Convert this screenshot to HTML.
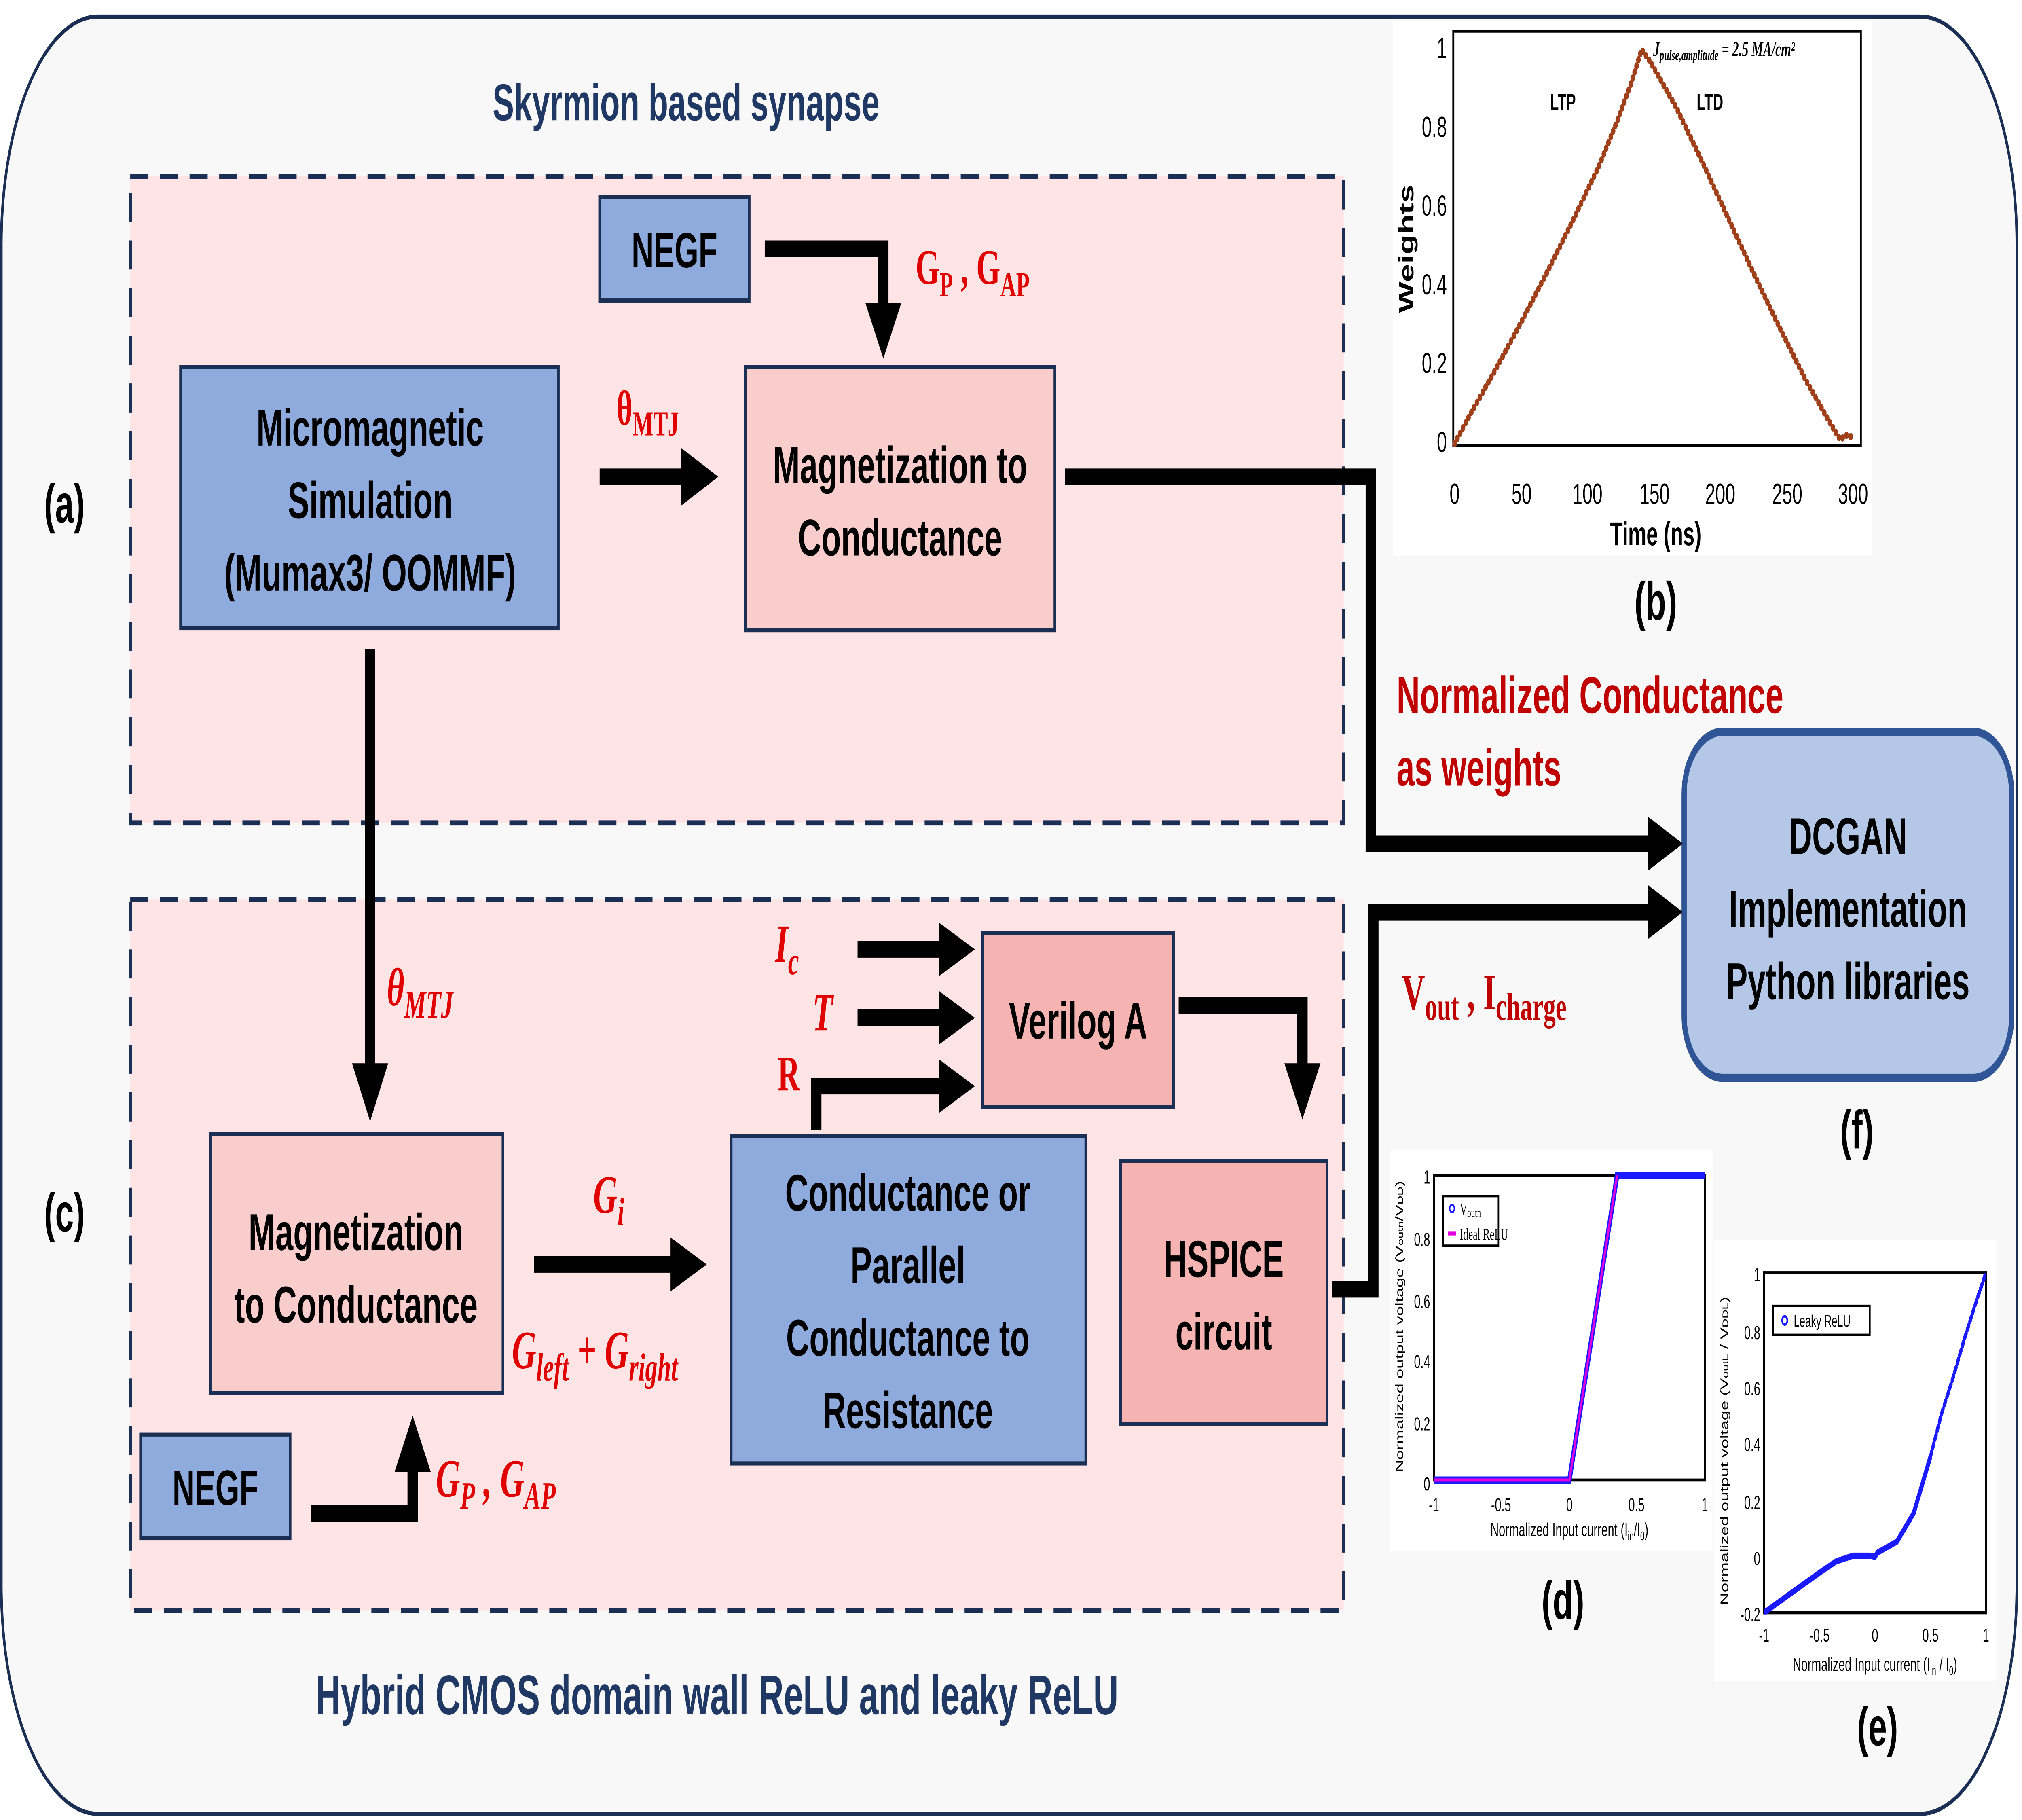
<!DOCTYPE html>
<html><head><meta charset="utf-8"><style>
html,body{margin:0;padding:0;background:#fff;width:100%;height:100%;overflow:hidden;}
svg{display:block;width:100vw;height:100vh;}
.bx{font-family:"Liberation Sans",sans-serif;font-weight:bold;fill:#000;text-anchor:middle;}
.rd{font-family:"Liberation Serif",serif;font-weight:bold;fill:#e00000;}
.ax{font-family:"Liberation Sans",sans-serif;fill:#000;}
</style></head><body>
<svg viewBox="0 0 1568 878" preserveAspectRatio="none" xmlns="http://www.w3.org/2000/svg">
<rect x="0" y="0" width="1568" height="878" fill="#fff"/>
<rect x="1" y="8" width="1563" height="867" rx="75" ry="110" fill="#f8f8f8" stroke="#1b2f55" stroke-width="2"/>

<text x="532" y="58" class="bx" style="fill:#1f3864;font-size:25px">Skyrmion based synapse</text>
<text x="556" y="827" class="bx" style="fill:#1f3864;font-size:27px">Hybrid CMOS domain wall ReLU and leaky ReLU</text>

<rect x="101" y="85" width="941" height="312" fill="#ffe4e6" stroke="#1b2f55" stroke-width="2.5" stroke-dasharray="14 9"/>
<rect x="101" y="434" width="941" height="343" fill="#ffe4e6" stroke="#1b2f55" stroke-width="2.5" stroke-dasharray="14 9"/>

<text x="50" y="252" class="bx" style="font-size:26px">(a)</text>
<text x="50" y="594" class="bx" style="font-size:26px">(c)</text>

<rect x="465" y="95" width="116" height="50" fill="#8faadc" stroke="#1b2f55" stroke-width="2"/>
<text x="523" y="129" class="bx" style="font-size:24px">NEGF</text>
<rect x="140" y="177" width="293" height="126" fill="#8faadc" stroke="#1b2f55" stroke-width="2"/>
<text x="287" y="215" class="bx" style="font-size:25px">Micromagnetic</text>
<text x="287" y="250" class="bx" style="font-size:25px">Simulation</text>
<text x="287" y="285" class="bx" style="font-size:25px">(Mumax3/ OOMMF)</text>
<rect x="578" y="177" width="240" height="127" fill="#f9cdcb" stroke="#1b2f55" stroke-width="2"/>
<text x="698" y="233" class="bx" style="font-size:25px">Magnetization to</text>
<text x="698" y="268" class="bx" style="font-size:25px">Conductance</text>

<rect x="163" y="547" width="227" height="125" fill="#f9cdcb" stroke="#1b2f55" stroke-width="2"/>
<text x="276" y="603" class="bx" style="font-size:25px">Magnetization</text>
<text x="276" y="638" class="bx" style="font-size:25px">to Conductance</text>
<rect x="567" y="548" width="275" height="158" fill="#8faadc" stroke="#1b2f55" stroke-width="2"/>
<text x="704" y="584" class="bx" style="font-size:25px">Conductance or</text>
<text x="704" y="619" class="bx" style="font-size:25px">Parallel</text>
<text x="704" y="654" class="bx" style="font-size:25px">Conductance to</text>
<text x="704" y="689" class="bx" style="font-size:25px">Resistance</text>
<rect x="762" y="450" width="148" height="84" fill="#f5b3b1" stroke="#1b2f55" stroke-width="2"/>
<text x="836" y="501" class="bx" style="font-size:25px">Verilog A</text>
<rect x="869" y="560" width="160" height="127" fill="#f5b3b1" stroke="#1b2f55" stroke-width="2"/>
<text x="949" y="616" class="bx" style="font-size:25px">HSPICE</text>
<text x="949" y="651" class="bx" style="font-size:25px">circuit</text>
<rect x="109" y="692" width="116" height="50" fill="#8faadc" stroke="#1b2f55" stroke-width="2"/>
<text x="167" y="726" class="bx" style="font-size:24px">NEGF</text>

<rect x="1306" y="353" width="254" height="167" rx="30" fill="#b4c7e7" stroke="#2f5597" stroke-width="4"/>
<text x="1433" y="412" class="bx" style="font-size:25px">DCGAN</text>
<text x="1433" y="447" class="bx" style="font-size:25px">Implementation</text>
<text x="1433" y="482" class="bx" style="font-size:25px">Python libraries</text>
<text x="1440" y="554" class="bx" style="font-size:26px">(f)</text>

<g fill="none" stroke="#000" stroke-width="8">
<path d="M465,230 H532"/>
<path d="M593,120 H685 V148"/>
<path d="M826,230 H1063 V407 H1282"/>
<path d="M287,313 V516"/>
<path d="M414,610 H523"/>
<path d="M665,458 H731"/>
<path d="M665,491 H731"/>
<path d="M633,545 V524 H731"/>
<path d="M914,485 H1010 V516"/>
<path d="M1033,622 H1065 V440 H1282"/>
<path d="M241,730 H320 V707"/>
</g>
<g fill="#000">
<polygon points="528,216 557,230 528,244"/>
<polygon points="671,146 685,173 699,146"/>
<polygon points="1278,394 1305,407 1278,420"/>
<polygon points="273,513 287,541 301,513"/>
<polygon points="520,597 548,610 520,623"/>
<polygon points="728,445 756,458 728,471"/>
<polygon points="728,478 756,491 728,504"/>
<polygon points="728,511 756,524 728,537"/>
<polygon points="996,513 1010,540 1024,513"/>
<polygon points="1278,427 1305,440 1278,453"/>
<polygon points="306,710 320,683 334,710"/>
</g>

<text x="478" y="205" class="rd" style="font-size:24px">θ<tspan font-size="17" dy="5">MTJ</tspan></text>
<text x="710" y="137" class="rd" style="font-size:24px">G<tspan font-size="17" dy="6">P</tspan><tspan dy="-6"> , G</tspan><tspan font-size="17" dy="6">AP</tspan></text>
<text x="300" y="485" class="rd" style="font-size:26px;font-style:italic">θ<tspan font-size="19" dy="6">MTJ</tspan></text>
<text x="460" y="585" class="rd" style="font-size:26px;font-style:italic">G<tspan font-size="19" dy="6">i</tspan></text>
<text x="397" y="660" class="rd" style="font-size:26px;font-style:italic">G<tspan font-size="19" dy="6">left</tspan><tspan dy="-6"> + G</tspan><tspan font-size="19" dy="6">right</tspan></text>
<text x="338" y="722" class="rd" style="font-size:26px;font-style:italic">G<tspan font-size="19" dy="6">P</tspan><tspan dy="-6"> , G</tspan><tspan font-size="19" dy="6">AP</tspan></text>
<text x="601" y="464" class="rd" style="font-size:26px;font-style:italic">I<tspan font-size="19" dy="6">c</tspan></text>
<text x="630" y="497" class="rd" style="font-size:26px;font-style:italic">T</text>
<text x="603" y="526" class="rd" style="font-size:24px">R</text>
<text x="1087" y="487" class="rd" style="font-size:25px;fill:#c00000">V<tspan font-size="19" dy="5">out</tspan><tspan dy="-5"> , I</tspan><tspan font-size="19" dy="5">charge</tspan></text>
<text x="1083" y="344" class="bx" style="font-size:25px;fill:#c00000;text-anchor:start">Normalized Conductance</text>
<text x="1083" y="379" class="bx" style="font-size:25px;fill:#c00000;text-anchor:start">as weights</text>

<rect x="1080" y="10" width="372" height="258" fill="#fff"/>
<rect x="1127" y="15" width="316" height="200" fill="none" stroke="#000" stroke-width="1.5"/>
<g class="ax" style="font-size:14px;text-anchor:end">
<text x="1122" y="28">1</text><text x="1122" y="66">0.8</text><text x="1122" y="104">0.6</text>
<text x="1122" y="142">0.4</text><text x="1122" y="180">0.2</text><text x="1122" y="218">0</text>
</g>
<g class="ax" style="font-size:14px;text-anchor:middle">
<text x="1128" y="243">0</text><text x="1180" y="243">50</text><text x="1231" y="243">100</text>
<text x="1283" y="243">150</text><text x="1334" y="243">200</text><text x="1386" y="243">250</text><text x="1437" y="243">300</text>
</g>
<text x="1284" y="263" class="bx" style="font-size:16px">Time (ns)</text>
<text transform="translate(1096,120) rotate(-90)" class="bx" style="font-size:16px">Weights</text>
<text x="1212" y="53" class="bx" style="font-size:11px">LTP</text>
<text x="1326" y="53" class="bx" style="font-size:11px">LTD</text>
<text x="1282" y="27" style="font-family:'Liberation Serif',serif;font-style:italic;font-weight:bold;font-size:10px">J<tspan font-size="7" dy="2">pulse,amplitude</tspan><tspan dy="-2"> = 2.5 MA/cm²</tspan></text>
<polyline fill="none" stroke="#a0401a" stroke-width="3.5" stroke-linecap="round" stroke-dasharray="0.1 3.2"
 points="1128,214 1140,200 1160,178 1180,155 1200,131 1220,106 1240,80 1255,57 1265,40 1273,24 1280,30 1300,52 1320,78 1340,105 1360,132 1380,158 1400,183 1420,205 1427,212 1432,210 1437,211"/>
<text x="1284" y="299" class="bx" style="font-size:26px">(b)</text>

<rect x="1078" y="555" width="250" height="193" fill="#fff"/>
<rect x="1112" y="567" width="210" height="147" fill="none" stroke="#000" stroke-width="1.5"/>
<g class="ax" style="font-size:9px;text-anchor:end">
<text x="1109" y="571">1</text><text x="1109" y="601">0.8</text><text x="1109" y="631">0.6</text>
<text x="1109" y="660">0.4</text><text x="1109" y="690">0.2</text><text x="1109" y="719">0</text>
</g>
<g class="ax" style="font-size:9px;text-anchor:middle">
<text x="1112" y="729">-1</text><text x="1164" y="729">-0.5</text><text x="1217" y="729">0</text><text x="1269" y="729">0.5</text><text x="1322" y="729">1</text>
</g>
<text x="1217" y="741" class="ax" style="font-size:9px;text-anchor:middle">Normalized Input current (I<tspan font-size="6" dy="2">in</tspan><tspan dy="-2">/I</tspan><tspan font-size="6" dy="2">0</tspan><tspan dy="-2">)</tspan></text>
<text transform="translate(1088,640) rotate(-90)" class="ax" style="font-size:8.5px;text-anchor:middle">Normalized output voltage (V<tspan font-size="6">outn</tspan>/V<tspan font-size="6">DD</tspan>)</text>
<polyline fill="none" stroke="#1a1aff" stroke-width="3.5" points="1112,714 1217,714 1254,567 1322,567"/>
<polyline fill="none" stroke="#e000e0" stroke-width="1.6" points="1112,714 1217,714 1254,567"/>
<rect x="1119" y="577" width="43" height="24" fill="#fff" stroke="#000" stroke-width="1.2"/>
<circle cx="1126" cy="583" r="1.8" fill="none" stroke="#1a1aff"/>
<line x1="1123" y1="595" x2="1129" y2="595" stroke="#e000e0" stroke-width="2"/>
<text x="1132" y="586" style="font-family:'Liberation Serif',serif;font-size:8px">V<tspan font-size="6" dy="1">outn</tspan></text>
<text x="1132" y="598" style="font-family:'Liberation Serif',serif;font-size:8px">Ideal ReLU</text>
<text x="1212" y="781" class="bx" style="font-size:26px">(d)</text>

<rect x="1329" y="598" width="219" height="213" fill="#fff"/>
<rect x="1368" y="614" width="172" height="164" fill="none" stroke="#000" stroke-width="1.5"/>
<g class="ax" style="font-size:9px;text-anchor:end">
<text x="1365" y="618">1</text><text x="1365" y="646">0.8</text><text x="1365" y="673">0.6</text>
<text x="1365" y="700">0.4</text><text x="1365" y="728">0.2</text><text x="1365" y="755">0</text><text x="1365" y="782">-0.2</text>
</g>
<g class="ax" style="font-size:9px;text-anchor:middle">
<text x="1368" y="792">-1</text><text x="1411" y="792">-0.5</text><text x="1454" y="792">0</text><text x="1497" y="792">0.5</text><text x="1540" y="792">1</text>
</g>
<text x="1454" y="806" class="ax" style="font-size:9px;text-anchor:middle">Normalized Input current (I<tspan font-size="6" dy="2">in</tspan><tspan dy="-2"> / I</tspan><tspan font-size="6" dy="2">0</tspan><tspan dy="-2">)</tspan></text>
<text transform="translate(1340,700) rotate(-90)" class="ax" style="font-size:8.5px;text-anchor:middle">Normalized output voltage (V<tspan font-size="6">outL</tspan> / V<tspan font-size="6">DDL</tspan>)</text>
<rect x="1375" y="630" width="75" height="14" fill="#fff" stroke="#000" stroke-width="1.2"/>
<circle cx="1384" cy="637" r="2" fill="none" stroke="#1a1aff" stroke-width="1.2"/>
<text x="1391" y="640" style="font-family:'Liberation Sans',sans-serif;font-size:8px">Leaky ReLU</text>
<polyline fill="none" stroke="#1a1aff" stroke-width="3" points="1368,778 1389.5,768.3 1411,758.7 1424,753.2 1437,750.5 1450,750.5 1454,751 1456,749 1471,743.7 1484,730 1497,702.7"/>
<polyline fill="none" stroke="#1a1aff" stroke-width="2.5" stroke-linecap="round" stroke-dasharray="2.5 2" points="1497,702.7 1505.6,682 1514,665.7 1523,646.6 1531.4,630 1540,614"/>
<text x="1456" y="842" class="bx" style="font-size:26px">(e)</text>
</svg>
</body></html>
